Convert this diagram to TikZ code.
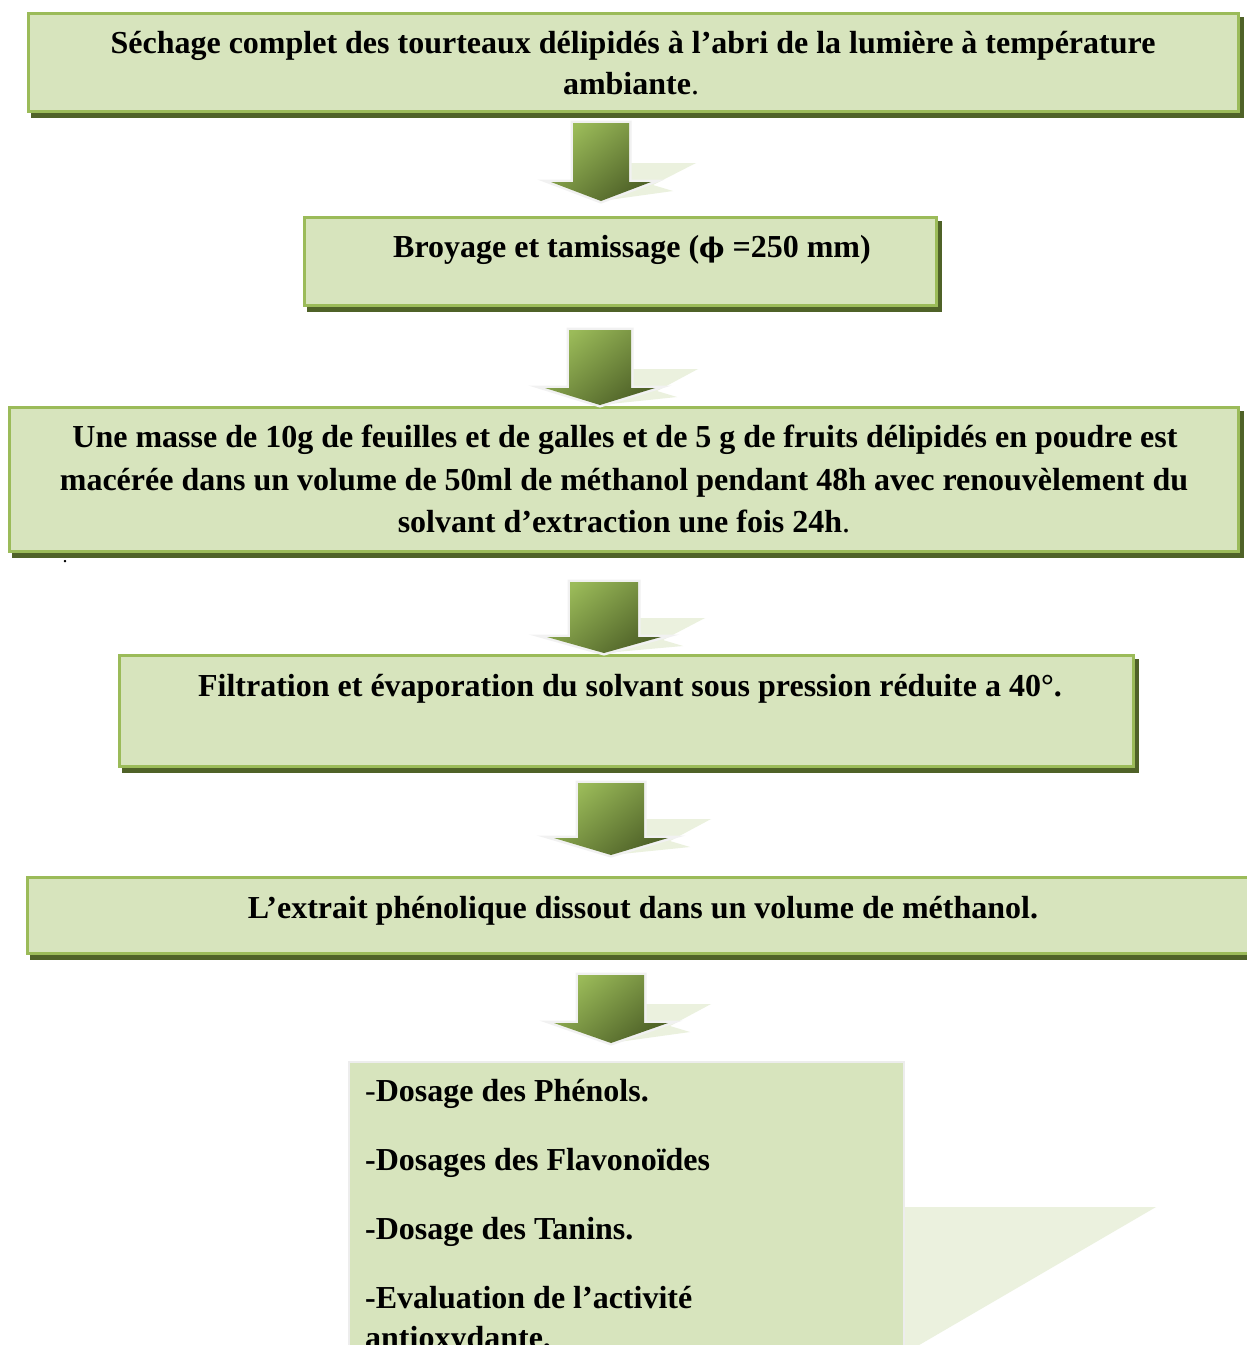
\documentclass[tikz,border=0pt]{standalone}
\usepackage{fontspec}
\setmainfont{Liberation Serif}
\newfontfamily\djv{DejaVu Serif}
\definecolor{boxfill}{HTML}{D7E4BD}
\definecolor{boxedge}{HTML}{9BBB59}
\definecolor{shadowc}{HTML}{4F6228}
\definecolor{arrlight}{HTML}{9BBB59}
\definecolor{arrdark}{HTML}{4F6228}
\definecolor{arrshadow}{HTML}{EBF1DE}
\definecolor{glow}{HTML}{F1F1F1}
% box: name, x1, y1, x2, y2
\newcommand\flowbox[5]{%
  \fill[shadowc] ({#2+4},{#3+5}) rectangle ({#4+4},{#5+5});
  \node[boxst, minimum width={#4-#2-3}, minimum height={#5-#3-3}] (#1) at ({(#2+#4)/2},{(#3+#5)/2}) {};}
% block arrow: cx, shaft half width, wing half width, shaft top, wing y, tip y
\newcommand\blockarr[6]{%
  \fill[arrshadow] ({#1+#2-2},{#5-19}) -- ({#1+#2+67},{#5-19}) -- ({#1+#3+2},{#5+3})
     -- ({#1+#3+22},{#5+9}) -- ({#1},{#6}) -- ({#1-#3+30},{#5+9}) -- ({#1+#2-2},{#5}) -- cycle;
  \draw[glow, line width=5pt, line join=miter] ({#1-#2},{#4}) -- ({#1+#2},{#4}) -- ({#1+#2},{#5}) -- ({#1+#3},{#5})
     -- ({#1},{#6}) -- ({#1-#3},{#5}) -- ({#1-#2},{#5}) -- cycle;
  \shade[top color=arrlight, bottom color=arrdark, shading angle=40] ({#1-#2},{#4}) -- ({#1+#2},{#4}) -- ({#1+#2},{#5}) -- ({#1+#3},{#5})
     -- ({#1},{#6}) -- ({#1-#3},{#5}) -- ({#1-#2},{#5}) -- cycle;}
\begin{document}
\begin{tikzpicture}[x=1pt,y=-1pt,
  boxst/.style={draw=boxedge, fill=boxfill, line width=3pt, inner sep=0pt, outer sep=0pt},
  txt/.style={anchor=base, inner sep=0pt, font=\fontsize{32}{38}\selectfont\bfseries},
  ltxt/.style={txt, anchor=base west}]
\useasboundingbox (0,0) rectangle (1247,1345);
\clip (0,0) rectangle (1247,1345);
\fill[white] (0,0) rectangle (1247,1345);

% boxes
\flowbox{b1}{27}{12}{1240}{113}
\flowbox{b2}{303}{216}{938}{307}
\flowbox{b3}{8}{406}{1240}{553}
\flowbox{b4}{118}{654}{1135}{768}
\flowbox{b5}{26}{876}{1262}{955}

% last box with its large light shadow
\fill[arrshadow] (903,1207) -- (1156,1207) -- (890,1362) -- (903,1362) -- cycle;
\node[draw=black!7, fill=boxfill, line width=2pt, inner sep=0pt, minimum width=555pt, minimum height=300pt,
      anchor=north west] (b6) at (348,1061) {};

% arrows
\blockarr{601}{28}{50}{123}{182}{201}
\blockarr{600}{31}{55}{330}{388}{405}
\blockarr{604}{34}{57}{582}{637}{653}
\blockarr{611}{33}{57}{783}{838}{855}
\blockarr{611}{33}{57}{975}{1023}{1043}

% texts
\node[txt] (t1a) at (633,53) {Séchage complet des tourteaux délipidés à l’abri de la lumière à  température};
\node[txt] (t1b) at (631,94) {ambiante{\mdseries .}};
\node[txt] (t2) at (632,257) {Broyage et tamissage ({\djv\bfseries\fontsize{27}{30}\selectfont ϕ} =250 mm)};
\node[txt] (t3a) at (625,447) {Une masse de 10g de feuilles et de galles et de 5 g de fruits  délipidés en poudre est};
\node[txt] (t3b) at (624,490) {macérée dans un volume de 50ml de méthanol pendant 48h avec renouvèlement du};
\node[txt] (t3c) at (624,532) {solvant d’extraction une fois 24h{\mdseries .}};
\node[anchor=base, inner sep=0pt, font=\fontsize{20}{24}\selectfont] (dot) at (65,562) {.};
\node[txt] (t4) at (630,696) {Filtration et évaporation du solvant sous pression réduite a 40°.};
\node[txt] (t5) at (643,918) {L’extrait phénolique dissout dans un volume de méthanol.};
\node[ltxt] (t6a) at (365,1101) {{\mdseries -}Dosage des Phénols.};
\node[ltxt] (t6b) at (365,1170) {-Dosages des Flavonoïdes};
\node[ltxt] (t6c) at (365,1239) {-Dosage des Tanins.};
\node[ltxt] (t6d) at (365,1308) {-Evaluation de l’activité};
\node[ltxt] (t6e) at (365,1348) {antioxydante.};
\end{tikzpicture}
\end{document}
